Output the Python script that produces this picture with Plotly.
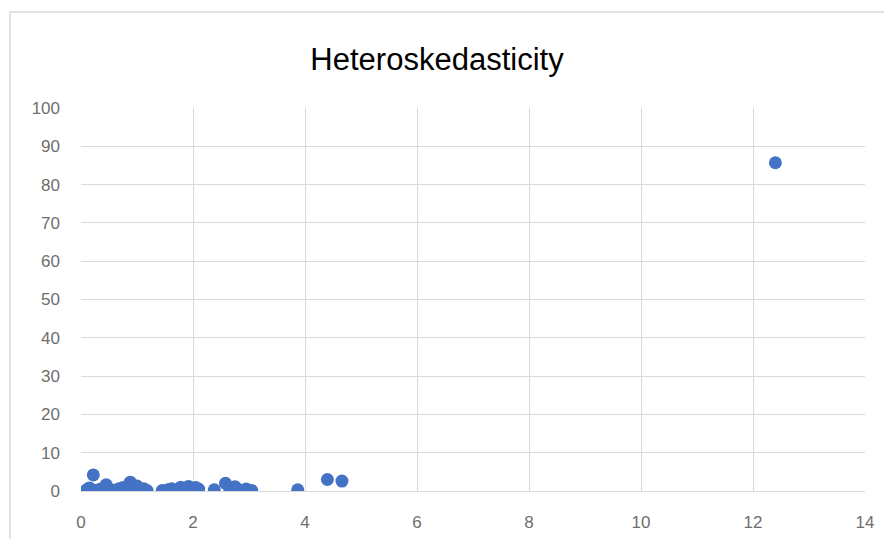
import plotly.graph_objects as go

x_vals = [0.10, 0.15, 0.22, 0.28, 0.35, 0.42, 0.45, 0.52, 0.60, 0.68, 0.75, 0.82,
          0.88, 0.95, 1.00, 1.05, 1.12, 1.18, 1.45, 1.55, 1.62, 1.70, 1.78, 1.85,
          1.92, 1.98, 2.05, 2.10, 2.38, 2.58, 2.66, 2.75, 2.82, 2.95, 3.05, 3.87,
          4.40, 4.66, 12.40]
y_vals = [0.3, 0.8, 4.2, 0.2, 0.5, 0.1, 1.6, 0.4, 0.2, 0.6, 0.9, 0.3,
          2.3, 0.5, 1.3, 0.2, 0.6, 0.1, 0.1, 0.3, 0.6, 0.2, 1.0, 0.4,
          1.2, 0.2, 0.9, 0.5, 0.3, 2.0, 0.4, 1.1, 0.3, 0.5, 0.1, 0.3,
          3.0, 2.6, 85.7]

x_ticks = [0, 2, 4, 6, 8, 10, 12, 14]
y_ticks = [0, 10, 20, 30, 40, 50, 60, 70, 80, 90, 100]

W, H = 884, 536

fig = go.Figure()
fig.add_trace(go.Scatter(
    x=x_vals, y=y_vals, mode="markers",
    marker=dict(color="#4472C4", size=13, line=dict(width=0)),
    showlegend=False,
))

tick_font = dict(family="Liberation Sans, Arial", size=17, color="#6e6e6e")

fig.update_layout(
    width=W, height=H,
    margin=dict(l=73, r=27, t=100, b=48),
    paper_bgcolor="white", plot_bgcolor="white",
    title=dict(text="Heteroskedasticity", x=429 / W, xref="container", xanchor="center",
               y=1 - 51 / H, yref="container", yanchor="middle",
               font=dict(family="Liberation Sans, Arial", size=31, color="#000000")),
    xaxis=dict(range=[0, 14], tickvals=x_ticks, showgrid=True, gridcolor="#d9d9d9",
               gridwidth=1, zeroline=False, showline=True, linecolor="#d9d9d9",
               linewidth=1, mirror=False, ticks="", tickfont=tick_font, ticklabelstandoff=16),
    yaxis=dict(range=[0, 100], tickvals=y_ticks, showgrid=True, gridcolor="#d9d9d9",
               gridwidth=1, zeroline=False, showline=False, ticks="",
               tickfont=tick_font, ticklabelstandoff=20),
)

# chart area border
fig.add_shape(type="rect", xref="paper", yref="paper",
              x0=(10 - 81) / 784, x1=1.2, y0=-0.2, y1=(491 - 12) / 383,
              line=dict(color="#d9d9d9", width=1.5), fillcolor="rgba(0,0,0,0)", layer="below")

fig.write_html("out.html")
